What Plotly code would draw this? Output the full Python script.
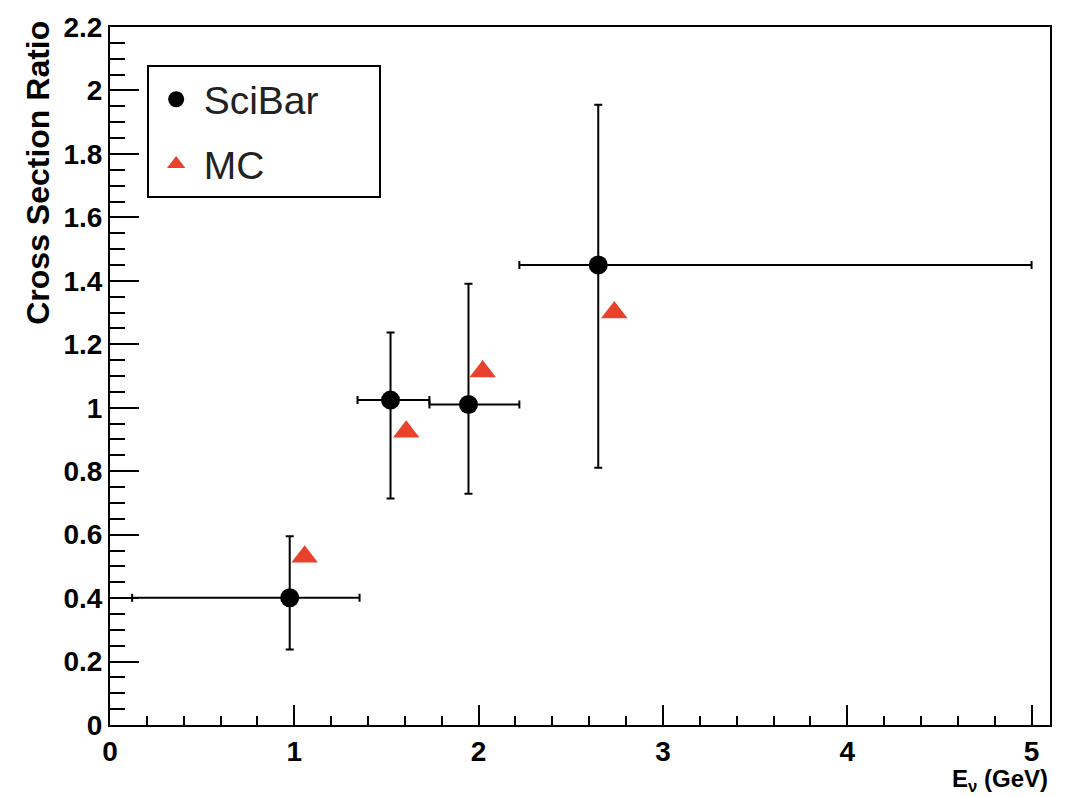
import plotly.graph_objects as go

# SciBar data (points with asymmetric errors)
sci_x = [0.975, 1.522, 1.945, 2.649]
sci_y = [0.401, 1.024, 1.010, 1.450]
sci_x_low = [0.120, 1.343, 1.733, 2.221]
sci_x_high = [1.354, 1.733, 2.221, 5.000]
sci_y_low = [0.238, 0.714, 0.729, 0.811]
sci_y_high = [0.595, 1.237, 1.391, 1.955]

# MC predictions
mc_x = [1.056, 1.607, 2.022, 2.736]
mc_y = [0.530, 0.924, 1.114, 1.300]

x_ticks = [0, 1, 2, 3, 4, 5]
y_ticks = [0, 0.2, 0.4, 0.6, 0.8, 1, 1.2, 1.4, 1.6, 1.8, 2, 2.2]
y_tick_labels = ["0", "0.2", "0.4", "0.6", "0.8", "1", "1.2", "1.4", "1.6", "1.8", "2", "2.2"]

FONT = "Liberation Sans, Arial, sans-serif"
RED = "#e8412c"
PAD = "\u00a0" * 5

fig = go.Figure()
fig.add_trace(go.Scatter(
    x=sci_x, y=sci_y, mode="markers", name="SciBar" + PAD, legendgroup="a",
    marker=dict(symbol="circle", size=19, color="black"),
    error_x=dict(type="data", symmetric=False,
                 array=[h - c for h, c in zip(sci_x_high, sci_x)],
                 arrayminus=[c - l for l, c in zip(sci_x_low, sci_x)],
                 color="black", thickness=2, width=4),
    error_y=dict(type="data", symmetric=False,
                 array=[h - c for h, c in zip(sci_y_high, sci_y)],
                 arrayminus=[c - l for l, c in zip(sci_y_low, sci_y)],
                 color="black", thickness=2, width=4),
))
fig.add_trace(go.Scatter(
    x=mc_x, y=mc_y, mode="markers", name="MC", legendgroup="b",
    marker=dict(symbol="triangle-up", size=23, color=RED),
))

fig.update_layout(
    width=1067, height=797,
    margin=dict(l=110, r=17, t=22, b=72),
    paper_bgcolor="white", plot_bgcolor="white",
    font=dict(family=FONT, color="black"),
    showlegend=True,
    legend=dict(
        x=0.039, y=0.945, xanchor="left", yanchor="top",
        bgcolor="white", bordercolor="black", borderwidth=2,
        font=dict(family=FONT, size=39, color="#222"),
        tracegroupgap=11, itemwidth=45,
    ),
    xaxis=dict(
        range=[0, 5.1], showgrid=False, zeroline=False,
        showline=True, linecolor="black", linewidth=2, mirror=True,
        ticks="inside", ticklen=20, tickwidth=2, tickcolor="black",
        tickvals=x_ticks, ticktext=[str(v) for v in x_ticks],
        tickfont=dict(family=FONT, size=28, weight="bold", color="black"),
        minor=dict(ticks="inside", ticklen=9, tickwidth=2, tickcolor="black", dtick=0.2, showgrid=False),
    ),
    yaxis=dict(
        range=[0, 2.2], showgrid=False, zeroline=False,
        showline=True, linecolor="black", linewidth=2, mirror=True,
        ticks="inside", ticklen=29, tickwidth=2, tickcolor="black",
        tickvals=y_ticks, ticktext=y_tick_labels,
        tickfont=dict(family=FONT, size=28, weight="bold", color="black"),
        minor=dict(ticks="inside", ticklen=15, tickwidth=2, tickcolor="black", dtick=0.05, showgrid=False),
    ),
    annotations=[
        dict(text="Cross Section Ratio", textangle=-90, xref="paper", yref="paper",
             x=-0.0775, y=1.012, xanchor="center", yanchor="top", showarrow=False,
             font=dict(family=FONT, size=32, weight="bold", color="black")),
        dict(text="E<sub>ν</sub> (GeV)", xref="paper", yref="paper",
             x=1.0, y=-0.055, xanchor="right", yanchor="top", showarrow=False,
             font=dict(family=FONT, size=24, weight="bold", color="black")),
    ],
)

fig.write_html("out.html")
